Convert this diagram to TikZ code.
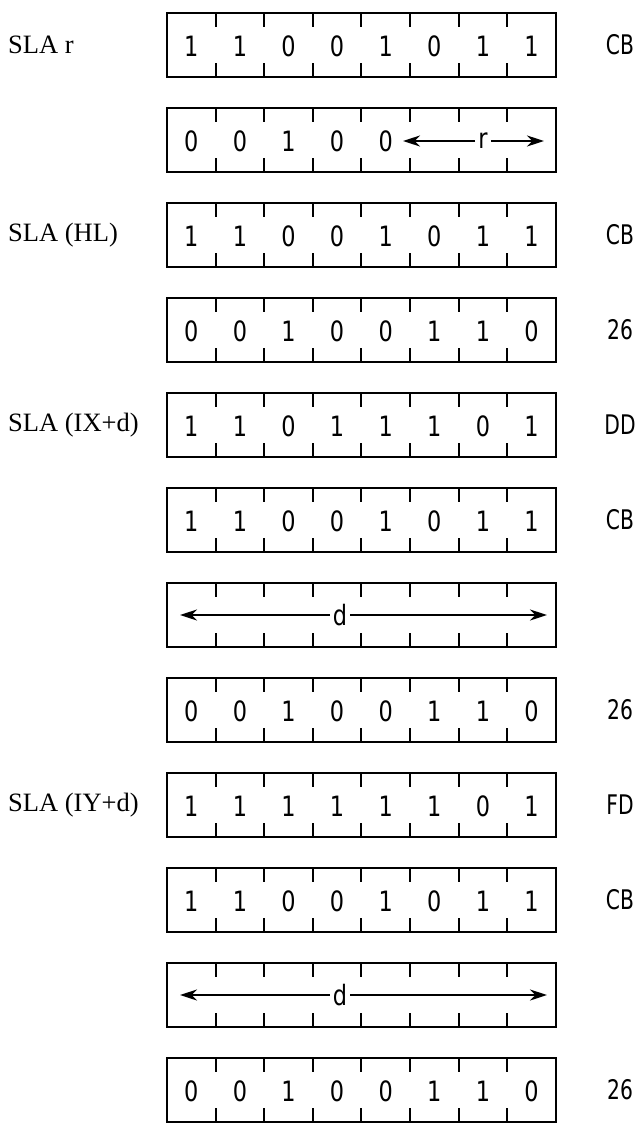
\documentclass[tikz,border=0pt]{standalone}
\usepackage{fontspec}
\setmainfont{Liberation Serif}
\newfontfamily\bitfont[FakeStretch=0.8]{DejaVu Sans}
\newfontfamily\hexfont[FakeStretch=0.75]{DejaVu Sans}
\usetikzlibrary{arrows.meta, calc}

% registro a 8 bit con le tacche sopra e sotto
\newcommand{\registro}[2]{%
  \node[reg] (#1) at (361.5,#2+32) {};
  \foreach \i in {1,...,7} {
    \draw[tacca] ($(#1.north west)+(\i*48.6,0)$) -- ++(0,14);
    \draw[tacca] ($(#1.south west)+(\i*48.6,0)$) -- ++(0,-14);
  }
}
% cifre dentro le celle
\newcommand{\bitreg}[2]{%
  \foreach \b [count=\j] in {#2}
    \node[cifra] (#1-\j) at ($(#1.west)+(\j*48.6-24.3,1)$) {\b};
}

\begin{document}
\begin{tikzpicture}[
  x=1pt, y=-1pt,
  reg/.style={draw, line width=2.7pt, minimum width=389pt,
    minimum height=64pt, inner sep=0pt, outer sep=0pt},
  tacca/.style={line width=2pt},
  cifra/.style={font=\bitfont\fontsize{28}{30}\selectfont, inner sep=0pt},
  hex/.style={font=\hexfont\fontsize{27}{29}\selectfont, inner sep=0pt},
  istr/.style={font=\fontsize{26.5}{29}\selectfont, anchor=west, inner sep=0pt},
  freccia/.style={-{Stealth[length=17pt, width=11pt]}, line width=2.3pt},
  campo/.style={font=\bitfont\fontsize{28}{30}\selectfont, inner sep=3pt}
]
  \useasboundingbox (0,0) rectangle (640,1124);

  % SLA r
  \registro{r1}{13}
  \bitreg{r1}{1,1,0,0,1,0,1,1}
  \node[istr] (sla-r) at (8,45) {SLA r};
  \node[hex] (h1) at (620,45) {CB};

  \registro{r2}{108}
  \bitreg{r2}{0,0,1,0,0}
  \node[campo] (lbl-r) at (483,141) {r};
  \coordinate (r-sx) at (403,141);
  \coordinate (r-dx) at (544,141);
  \draw[freccia] (lbl-r) -- (r-sx);
  \draw[freccia] (lbl-r) -- (r-dx);

  % SLA (HL)
  \registro{r3}{203}
  \bitreg{r3}{1,1,0,0,1,0,1,1}
  \node[istr] (sla-hl) at (8,235) {SLA (HL)};
  \node[hex] (h3) at (620,235) {CB};

  \registro{r4}{298}
  \bitreg{r4}{0,0,1,0,0,1,1,0}
  \node[hex] (h4) at (620,330) {26};

  % SLA (IX+d)
  \registro{r5}{393}
  \bitreg{r5}{1,1,0,1,1,1,0,1}
  \node[istr] (sla-ix) at (8,425) {SLA (IX+d)};
  \node[hex] (h5) at (620,425) {DD};

  \registro{r6}{488}
  \bitreg{r6}{1,1,0,0,1,0,1,1}
  \node[hex] (h6) at (620,520) {CB};

  \registro{r7}{583}
  \node[campo] (lbl-d1) at (340,615) {d};
  \coordinate (d1-sx) at (180,615);
  \coordinate (d1-dx) at (547,615);
  \draw[freccia] (lbl-d1) -- (d1-sx);
  \draw[freccia] (lbl-d1) -- (d1-dx);

  \registro{r8}{678}
  \bitreg{r8}{0,0,1,0,0,1,1,0}
  \node[hex] (h8) at (620,710) {26};

  % SLA (IY+d)
  \registro{r9}{773}
  \bitreg{r9}{1,1,1,1,1,1,0,1}
  \node[istr] (sla-iy) at (8,805) {SLA (IY+d)};
  \node[hex] (h9) at (620,805) {FD};

  \registro{r10}{868}
  \bitreg{r10}{1,1,0,0,1,0,1,1}
  \node[hex] (h10) at (620,900) {CB};

  \registro{r11}{963}
  \node[campo] (lbl-d2) at (340,995) {d};
  \coordinate (d2-sx) at (180,995);
  \coordinate (d2-dx) at (547,995);
  \draw[freccia] (lbl-d2) -- (d2-sx);
  \draw[freccia] (lbl-d2) -- (d2-dx);

  \registro{r12}{1058}
  \bitreg{r12}{0,0,1,0,0,1,1,0}
  \node[hex] (h12) at (620,1090) {26};

\end{tikzpicture}
\end{document}
